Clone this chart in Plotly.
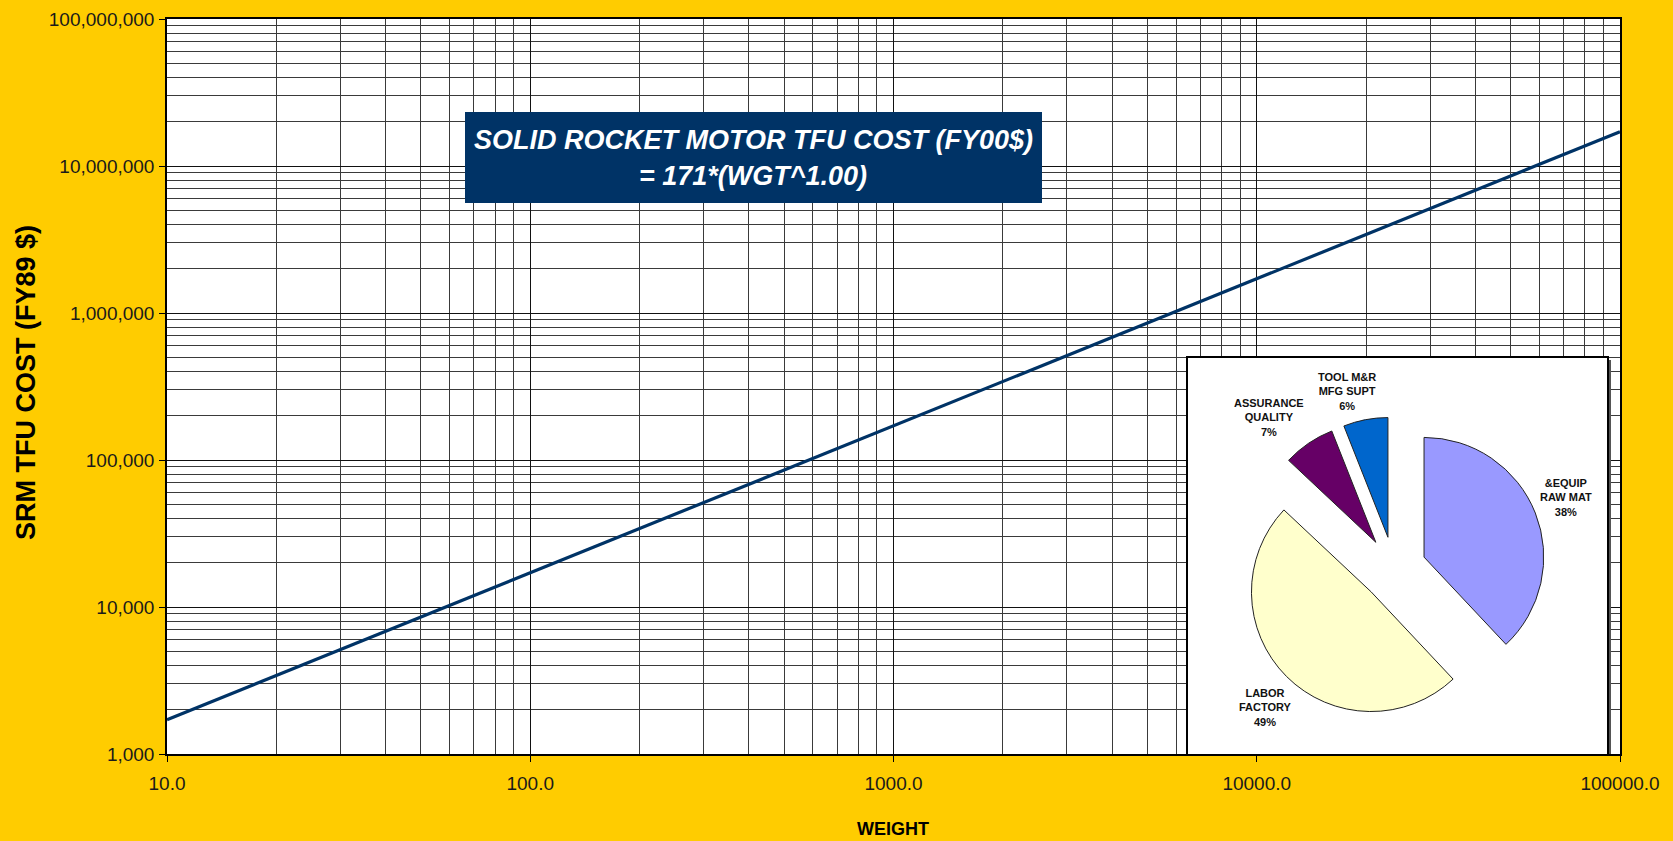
import plotly.graph_objects as go

# ---- data ----
weights = [10, 100, 1000, 10000, 100000]
costs = [1710, 17100, 171000, 1710000, 17100000]

x_tickvals = [10, 100, 1000, 10000, 100000]
x_ticktext = ["10.0", "100.0", "1000.0", "10000.0", "100000.0"]
y_tickvals = [1e3, 1e4, 1e5, 1e6, 1e7, 1e8]
y_ticktext = ["1,000", "10,000", "100,000", "1,000,000", "10,000,000", "100,000,000"]

pie_labels = ["RAW MAT & EQUIP", "FACTORY LABOR", "QUALITY ASSURANCE", "MFG SUPT TOOL M&R"]
pie_values = [38, 49, 7, 6]
pie_texts = ["&EQUIP<br>RAW MAT<br>38%", "LABOR<br>FACTORY<br>49%",
             "ASSURANCE<br>QUALITY<br>7%", "TOOL M&R<br>MFG SUPT<br>6%"]
pie_colors = ["#9999FF", "#FFFFCC", "#660066", "#0066CC"]

# ---- geometry helpers (pixel -> paper / data) ----
W, H = 1673, 841
L, R, T, B = 167, 53, 19, 87
PW, PH = W - L - R, H - T - B
XR = (1, 5)
YR = (3, 8)


def px(x):
    return (x - L) / PW


def py(y):
    return (H - B - y) / PH


def dx(x):
    return 10 ** (XR[0] + px(x) * (XR[1] - XR[0]))


def dy(y):
    return 10 ** (YR[0] + py(y) * (YR[1] - YR[0]))


FONT = "Liberation Sans, Arial, sans-serif"

fig = go.Figure()

fig.add_trace(go.Scatter(
    x=weights, y=costs, mode="lines",
    line=dict(color="#003366", width=3.2),
    showlegend=False, hoverinfo="x+y",
))

fig.add_trace(go.Pie(
    labels=pie_labels, values=pie_values,
    marker=dict(colors=pie_colors, line=dict(color="#222222", width=1)),
    sort=False, direction="clockwise", rotation=0,
    pull=[0.27] * len(pie_values),
    textinfo="none", hoverinfo="label+percent",
    domain=dict(x=[px(1242), px(1546)], y=[py(721), py(417)]),
    showlegend=False,
))

axis_common = dict(
    type="log",
    showline=True, linecolor="black", linewidth=1.5, mirror=True,
    ticks="outside", ticklen=6, tickcolor="black", tickwidth=1,
    showgrid=True, gridcolor="#111111", gridwidth=1,
    minor=dict(showgrid=True, gridcolor="#3a3a3a", gridwidth=1, dtick="D1", ticks=""),
    tickfont=dict(family=FONT, size=19, color="#1a1a1a"),
    zeroline=False,
)

fig.update_xaxes(
    **axis_common,
    range=list(XR),
    tickvals=x_tickvals, ticktext=x_ticktext,
    ticklabelstandoff=5,
)
fig.update_yaxes(
    **axis_common,
    range=list(YR),
    tickvals=y_tickvals, ticktext=y_ticktext,
    ticklabelstandoff=1,
)

shapes = [
    # inset shadow
    dict(type="rect", xref="x", yref="y", layer="between",
         x0=dx(1190), x1=dx(1611), y0=dy(760), y1=dy(360),
         fillcolor="#555555", line=dict(width=0)),
    # inset box
    dict(type="rect", xref="x", yref="y", layer="between",
         x0=dx(1187), x1=dx(1608), y0=dy(757), y1=dy(357),
         fillcolor="white", line=dict(color="black", width=2)),
    # title box
    dict(type="rect", xref="paper", yref="paper", layer="above",
         x0=px(465), x1=px(1042), y0=py(203), y1=py(112),
         fillcolor="#003366", line=dict(width=0)),
]

annotations = [
    dict(x=px(753), y=py(140), xref="paper", yref="paper", showarrow=False,
         text="<b><i>SOLID ROCKET MOTOR TFU COST (FY00$)</i></b>",
         font=dict(family=FONT, size=27, color="white"),
         xanchor="center", yanchor="middle"),
    dict(x=px(753), y=py(176), xref="paper", yref="paper", showarrow=False,
         text="<b><i>= 171*(WGT^1.00)</i></b>",
         font=dict(family=FONT, size=27, color="white"),
         xanchor="center", yanchor="middle"),
    dict(x=px(893), y=py(829), xref="paper", yref="paper", showarrow=False,
         text="<b>WEIGHT</b>", font=dict(family=FONT, size=18, color="black"),
         xanchor="center", yanchor="middle"),
    dict(x=px(26), y=py(383), xref="paper", yref="paper", showarrow=False,
         text="<b>SRM TFU COST (FY89 $)</b>", textangle=-90,
         font=dict(family=FONT, size=27, color="black"),
         xanchor="center", yanchor="middle"),
]

label_pos = [(1566, 497), (1265, 707), (1269, 417), (1347, 391)]
for txt, (lx, ly) in zip(pie_texts, label_pos):
    annotations.append(dict(
        x=px(lx), y=py(ly), xref="paper", yref="paper", showarrow=False,
        text="<b>" + txt + "</b>",
        font=dict(family=FONT, size=11, color="#111111"),
        xanchor="center", yanchor="middle", align="center",
    ))

fig.update_layout(
    width=W, height=H,
    margin=dict(l=L, r=R, t=T, b=B, autoexpand=False),
    paper_bgcolor="#FFCC00", plot_bgcolor="white",
    shapes=shapes, annotations=annotations,
    showlegend=False,
)

fig.write_html("out.html")
